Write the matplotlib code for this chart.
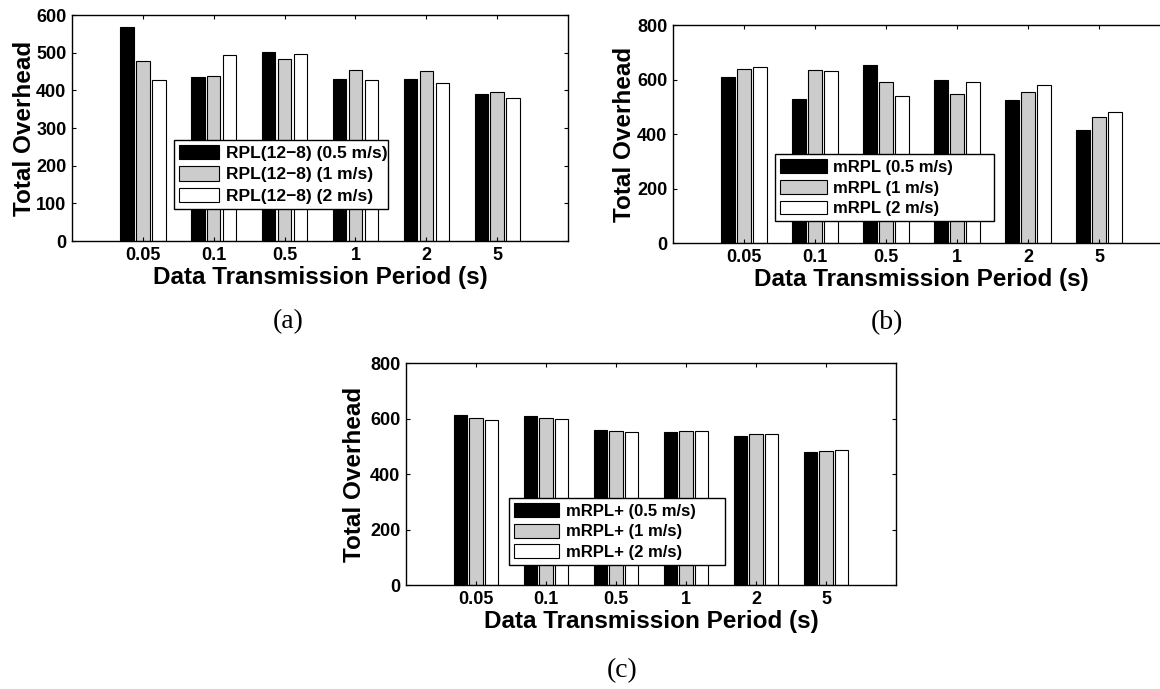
import numpy as np
import matplotlib.pyplot as plt

# DATOS
periodos = ['0.05', '0.1', '0.5', '1', '2', '5']
velocidades = ['0.5 m/s', '1 m/s', '2 m/s']

# (a) RPL(12-8)
rpl_05 = [569, 436, 501, 429, 431, 389]
rpl_1 = [478, 438, 482, 453, 451, 396]
rpl_2 = [428, 493, 496, 427, 419, 379]

# (b) mRPL
mrpl_05 = [609, 529, 653, 598, 526, 415]
mrpl_1 = [639, 635, 590, 548, 554, 462]
mrpl_2 = [645, 632, 541, 592, 579, 481]

# (c) mRPL+
mrplp_05 = [612, 610, 558, 551, 538, 478]
mrplp_1 = [603, 603, 555, 554, 544, 484]
mrplp_2 = [596, 599, 550, 554, 546, 487]

plt.rcParams['font.family'] = ['Liberation Sans', 'DejaVu Sans']
plt.rcParams['font.weight'] = 'bold'

fig = plt.figure(figsize=(11.6, 6.89), dpi=100)

# posiciones de los ejes [izq, abajo, ancho, alto] en fraccion de figura
# leg = caja de la leyenda (x, y, ancho, alto) en coordenadas de ejes
paneles = [
    dict(rect=[0.0621, 0.6502, 0.4276, 0.3280], nombre='RPL(12\u22128)',
         series=[rpl_05, rpl_1, rpl_2], ymax=600, yticks=range(0, 601, 100),
         leg=(0.206, 0.142, 0.431, 0.30), legsize=12.5, hl=2.3,
         ylab=-0.073, etiqueta='(a)', pos=(288, 322)),
    dict(rect=[0.5802, 0.6473, 0.4284, 0.3164], nombre='mRPL',
         series=[mrpl_05, mrpl_1, mrpl_2], ymax=800, yticks=range(0, 801, 200),
         leg=(0.205, 0.100, 0.441, 0.30), legsize=12, hl=2.8,
         ylab=-0.075, etiqueta='(b)', pos=(887, 323)),
    dict(rect=[0.3500, 0.1509, 0.4224, 0.3222], nombre='mRPL+',
         series=[mrplp_05, mrplp_1, mrplp_2], ymax=800, yticks=range(0, 801, 200),
         leg=(0.210, 0.090, 0.441, 0.30), legsize=12, hl=2.7,
         ylab=-0.081, etiqueta='(c)', pos=(622, 671)),
]

colores = ['black', '#cccccc', 'white']
desplaza = [-0.225, 0.0, 0.225]
ancho = 0.19
xi = np.arange(1, len(periodos) + 1)

for p in paneles:
    ax = fig.add_axes(p['rect'])
    for k in range(3):
        ax.bar(xi + desplaza[k], p['series'][k], width=ancho,
               color=colores[k], edgecolor='black', linewidth=0.8,
               label=p['nombre'] + ' (' + velocidades[k] + ')')
    ax.set_xlim(0, 7)
    ax.set_ylim(0, p['ymax'])
    ax.set_xticks(xi)
    ax.set_xticklabels(periodos)
    ax.set_yticks(list(p['yticks']))
    ax.tick_params(direction='in', top=True, right=True, length=3,
                   labelsize=13, pad=4)
    for t in ax.get_xticklabels() + ax.get_yticklabels():
        t.set_fontweight('bold')
    for s in ax.spines.values():
        s.set_linewidth(1.0)
    ax.set_xlabel('Data Transmission Period (s)', fontsize=17.5,
                  fontweight='bold', labelpad=2)
    ax.set_ylabel('Total Overhead', fontsize=17.5, fontweight='bold')
    ax.yaxis.set_label_coords(p['ylab'], 0.5)
    leg = ax.legend(loc='lower left', bbox_to_anchor=p['leg'], mode='expand',
                    borderaxespad=0, fancybox=False, framealpha=1,
                    edgecolor='black',
                    prop={'size': p['legsize'], 'weight': 'bold'},
                    handlelength=p['hl'], handleheight=0.9, labelspacing=0.3,
                    handletextpad=0.4, borderpad=0.3)
    leg.get_frame().set_linewidth(1.0)
    # subtitulo (a), (b), (c)
    fig.text(p['pos'][0] / 1160, 1 - p['pos'][1] / 689, p['etiqueta'],
             ha='center', va='center', fontsize=20, fontweight='normal',
             family='Liberation Serif')

plt.savefig('out.png', dpi=100)
